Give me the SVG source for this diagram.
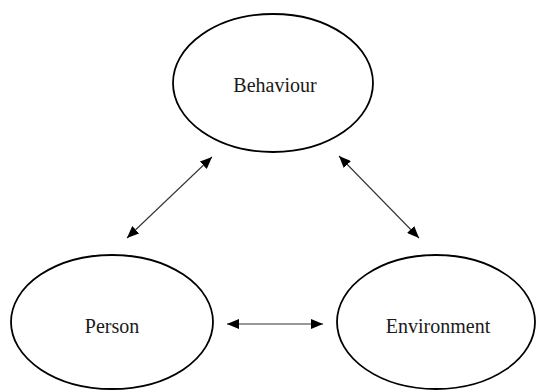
<svg xmlns="http://www.w3.org/2000/svg" width="536" height="390" viewBox="0 0 536 390">
<style>
.node ellipse{fill:#fff;stroke:#000;stroke-width:1.8}
.node text{font-family:"Liberation Serif","Times New Roman",serif;font-size:20px;fill:#1a1a1a;text-anchor:middle}
.conn line{stroke:#333;stroke-width:1.1;marker-start:url(#ah);marker-end:url(#ah)}
</style>
<defs>
<marker id="ah" viewBox="0 0 12 10" refX="12" refY="5" markerWidth="12" markerHeight="10" markerUnits="userSpaceOnUse" orient="auto-start-reverse">
<path d="M0,0 L12,5 L0,10 Z" fill="#000"/>
</marker>
</defs>
<rect width="536" height="390" fill="#fff"/>
<g id="behaviour" class="node">
<ellipse cx="273" cy="83" rx="100" ry="69"/>
<text x="275" y="92">Behaviour</text>
</g>
<g id="person" class="node">
<ellipse cx="112" cy="322" rx="101" ry="67"/>
<text x="112" y="333">Person</text>
</g>
<g id="environment" class="node">
<ellipse cx="436" cy="322" rx="99" ry="67"/>
<text x="438" y="333">Environment</text>
</g>
<g id="connectors" class="conn">
<line x1="212" y1="157" x2="127" y2="238"/>
<line x1="339" y1="156" x2="419" y2="238"/>
<line x1="227" y1="324" x2="323" y2="324"/>
</g>
</svg>
